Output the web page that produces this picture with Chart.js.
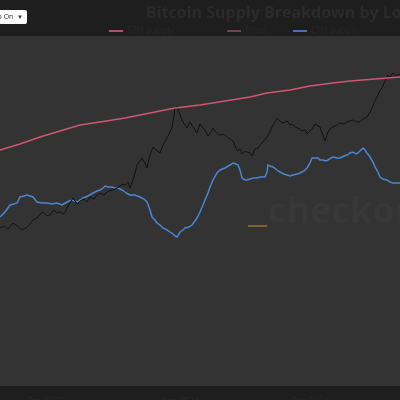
<!doctype html>
<html>
    <head>
        <meta charset="utf-8">
        <script src="https://cdn.jsdelivr.net/npm/chart.js"></script>
        <style>
            body {
                margin: 0px;
                background-color: #1e1e1e;
                overflow: hidden;
                font-family: "Open Sans", sans-serif;
            }

            .wrap {
                position: relative;
                width: 400px;
                height: 400px;
            }

            .title {
                position: absolute;
                left: 146px;
                top: 1px;
                font-size: 16px;
                font-weight: 700;
                color: #2b2b2b;
                white-space: nowrap;
            }

            .info {
                position: absolute;
                left: -14px;
                top: 10px;
                width: 41px;
                height: 14px;
                background-color: #fff;
                border-radius: 2px;
                font-size: 7px;
                line-height: 14px;
                color: #333;
                padding-left: 3px;
                box-sizing: border-box;
            }

            .info span {
                position: absolute;
                right: 4px;
                font-size: 6px;
            }

            .legend-item {
                position: absolute;
                top: 25px;
                font-size: 9px;
                color: #282828;
                white-space: nowrap;
                line-height: 10px;
            }

            .legend-item i {
                display: inline-block;
                width: 14px;
                height: 2px;
                vertical-align: middle;
                margin-right: 4px;
            }
        </style>
    </head>
    <body>
        <div class="wrap">
            <canvas id="chart" width="400" height="400"></canvas>
            <div class="title">Bitcoin Supply Breakdown by Long and Short-Term Holders</div>
            <div class="info">Info On <span>&#9660;</span></div>
            <div class="legend-item" style="left: 109px;"><i style="background:#b84e66"></i>STH Supply</div>
            <div class="legend-item" style="left: 227px;"><i style="background:#74434f"></i>Price</div>
            <div class="legend-item" style="left: 293px;"><i style="background:#4670be"></i>LTH Supply</div>
        </div>

        <script>

        // x is the day index across the window, values are relative levels on the hidden axis
        const priceX = [0,4,8,13,17,22,26,30,33,37,40,43,47,50,54,57,60,64,68,73,77,80,84,87,90,94,97,100,104,108,113,117,120,123,125,128,130,133,135,137,139,142,145,147,150,153,156,160,163,167,170,172,174,175,177,179,182,185,187,190,193,197,200,203,205,208,210,213,215,218,220,224,227,230,233,236,238,240,242,245,247,250,252,255,258,260,263,267,270,272,275,277,280,282,285,287,290,292,295,297,300,302,305,307,310,312,315,318,320,322,325,327,328,331,333,337,340,344,347,350,353,357,360,363,367,370,372,375,377,380,382,385,388,390,393,396,400];
        const priceLevel = [158,160,157,163,160,156,158,162,166,168,172,174,170,171,176,173,174,172,180,188,182,185,187,184,189,187,191,193,191,195,196,198,200,202,201,204,198,206,213,221,224,228,223,218,231,239,236,233,241,248,254,259,271,278,280,274,266,261,258,264,259,253,262,258,256,250,252,258,255,252,251,252,249,247,245,238,235,237,232,235,234,233,230,237,238,241,244,249,254,259,264,268,265,263,264,265,261,262,259,258,257,255,256,252,255,257,262,260,259,253,245,251,254,258,259,261,263,262,264,265,266,264,264,267,269,274,278,285,289,296,298,305,311,309,313,310,312];

        const sthX = [0,20,40,60,80,100,125,150,175,200,225,250,267,290,310,333,350,375,400];
        const sthLevel = [236,242,249,255,261,264,268,273,278,281,285,289,293,296,300,303,305,307,309];

        const lthX = [0,5,10,14,17,20,24,27,30,33,37,42,47,52,57,62,67,72,77,80,83,88,93,97,100,103,105,108,112,115,118,122,125,128,130,135,140,144,147,150,152,155,157,160,163,167,170,173,175,177,179,180,183,185,189,192,195,197,200,203,205,208,210,213,217,220,225,230,233,236,238,240,242,245,247,250,253,257,260,265,267,268,270,273,277,280,284,287,290,293,297,300,304,307,310,312,315,318,320,323,326,328,331,333,337,340,344,347,350,353,356,358,361,363,365,367,370,373,375,378,380,383,387,390,393,396,400];
        const lthLevel = [169,174,181,182,183,189,190,191,190,189,184,183,183,182,183,181,184,186,184,186,188,190,193,195,196,198,200,199,199,198,198,196,194,192,191,191,189,187,184,176,169,166,163,161,158,156,154,152,150,149,152,154,156,158,159,161,165,168,174,181,186,193,199,206,213,216,218,221,223,222,221,216,208,206,206,207,208,208,209,209,214,221,220,219,216,214,212,211,210,211,212,213,215,218,223,228,228,228,226,226,225,226,228,229,228,228,230,231,233,234,232,233,236,238,236,233,229,224,219,214,209,207,206,204,203,203,203];

        const tickDays = [45, 180, 310];
        const tickLabels = ['Oct 2023', 'Apr 2024', 'Oct 2024'];

        function pts(xs, ys) {
            return xs.map((x, i) => ({ x: x, y: ys[i] }));
        }

        const plotBg = {
            id: 'plotBg',
            beforeDraw(chart) {
                const a = chart.chartArea;
                const ctx = chart.ctx;
                ctx.save();
                ctx.fillStyle = '#333333';
                ctx.fillRect(a.left, a.top, a.right - a.left, a.bottom - a.top);
                ctx.restore();
            },
            beforeDatasetsDraw(chart) {
                const ctx = chart.ctx;
                const xs = chart.scales.x;
                const ys = chart.scales.y;
                ctx.save();
                ctx.fillStyle = '#383838';
                ctx.font = 'bold 36px "Open Sans", sans-serif';
                ctx.textBaseline = 'alphabetic';
                ctx.fillText('checkonchain', xs.getPixelForValue(268), ys.getPixelForValue(163));
                ctx.fillStyle = '#7a6330';
                ctx.fillRect(xs.getPixelForValue(248), ys.getPixelForValue(161), 19, 2);
                ctx.restore();
            }
        };

        new Chart(document.getElementById('chart'), {
            type: 'line',
            data: {
                datasets: [
                    {
                        label: 'STH Supply',
                        data: pts(sthX, sthLevel),
                        borderColor: '#cc5872',
                        borderWidth: 1.5
                    },
                    {
                        label: 'Price',
                        data: pts(priceX, priceLevel),
                        borderColor: '#111111',
                        borderWidth: 1
                    },
                    {
                        label: 'LTH Supply',
                        data: pts(lthX, lthLevel),
                        borderColor: '#4a86d4',
                        borderWidth: 1.5
                    }
                ]
            },
            options: {
                responsive: false,
                animation: false,
                layout: { padding: { top: 36, left: 0, right: 0, bottom: 0 } },
                elements: { point: { radius: 0 }, line: { tension: 0 } },
                plugins: {
                    legend: { display: false },
                    tooltip: { enabled: false }
                },
                scales: {
                    x: {
                        type: 'linear',
                        min: 0,
                        max: 400,
                        grid: { display: false },
                        border: { display: false },
                        afterBuildTicks(scale) {
                            scale.ticks = tickDays.map(v => ({ value: v }));
                        },
                        afterFit(scale) {
                            scale.height = 14;
                        },
                        ticks: {
                            autoSkip: false,
                            maxRotation: 0,
                            padding: 2,
                            color: '#2a2a2a',
                            font: { size: 9, family: 'Open Sans' },
                            callback: (v) => tickLabels[tickDays.indexOf(v)]
                        }
                    },
                    y: {
                        display: false,
                        min: 0,
                        max: 350
                    }
                }
            },
            plugins: [plotBg]
        });

        </script>
    </body>
</html>
